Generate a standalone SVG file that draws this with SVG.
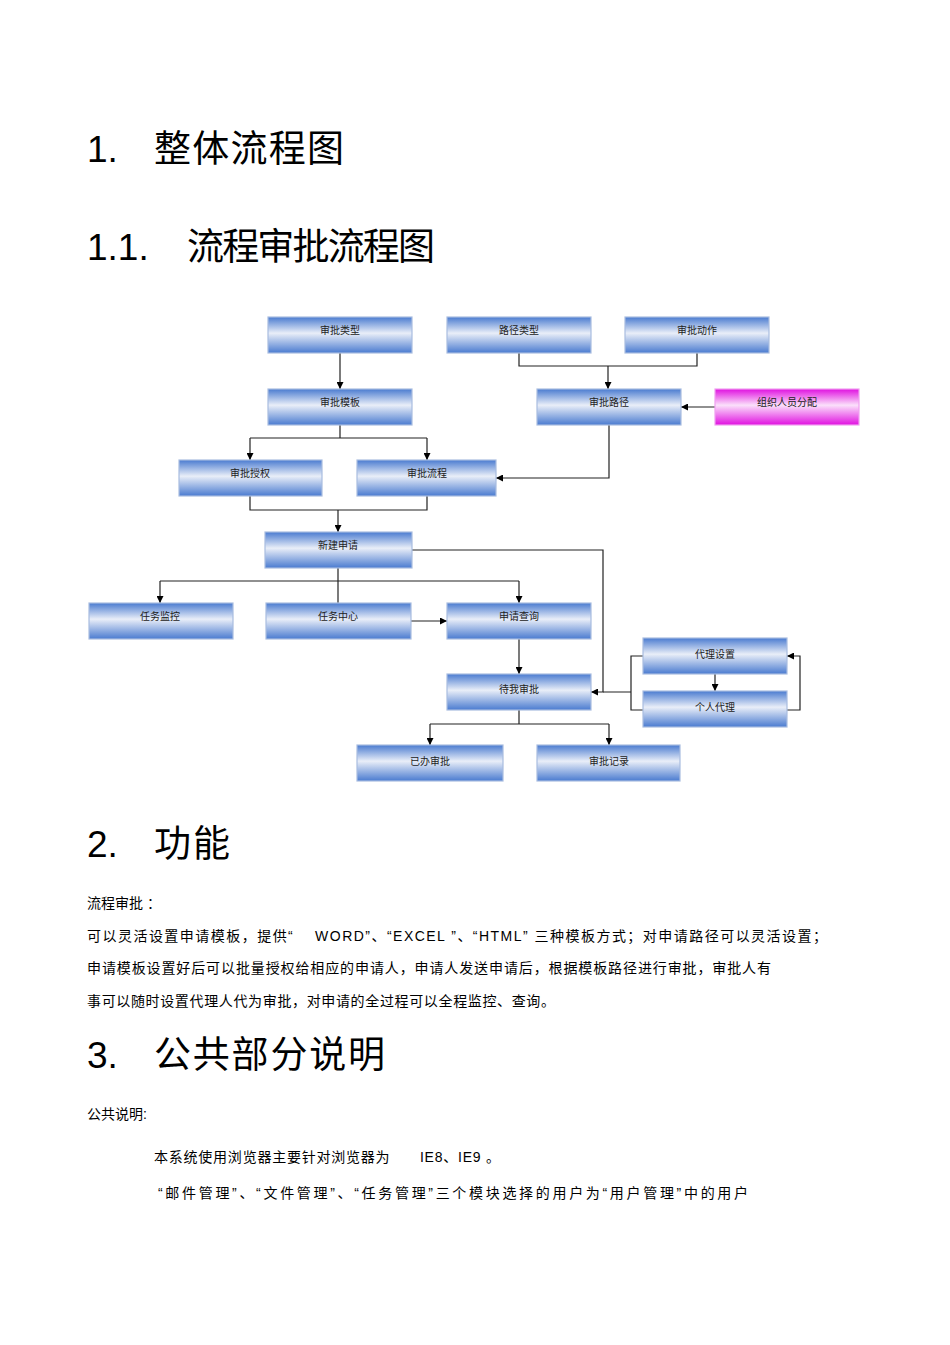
<svg xmlns="http://www.w3.org/2000/svg" width="950" height="1345" viewBox="0 0 950 1345">
<defs>
<linearGradient id="bg" x1="0" y1="0" x2="0" y2="1">
<stop offset="0" stop-color="#4a7bd0"/><stop offset="0.45" stop-color="#e9eef8"/><stop offset="1" stop-color="#4a7bd0"/>
</linearGradient>
<linearGradient id="mg" x1="0" y1="0" x2="0" y2="1">
<stop offset="0" stop-color="#e010e0"/><stop offset="0.45" stop-color="#fbe0fb"/><stop offset="1" stop-color="#e010e0"/>
</linearGradient>
<marker id="a" viewBox="0 0 10 10" refX="10" refY="5" markerWidth="7" markerHeight="7" orient="auto" markerUnits="userSpaceOnUse"><path d="M0,0L10,5L0,10z" fill="#000"/></marker>
</defs>
<style>
.n{fill:url(#bg);stroke:#a9bde0;stroke-width:1.2}
.m{fill:url(#mg);stroke:#f0a0f0;stroke-width:1.2}
.t{font-family:"Noto Sans CJK SC","Liberation Serif",serif;font-size:10px;fill:#222;text-anchor:middle}
.c{fill:none;stroke:#222;stroke-width:1.2}
.h{font-family:"Liberation Sans","Noto Sans CJK SC",sans-serif;font-size:37px;fill:#000}
.b{font-family:"Liberation Sans","Noto Sans CJK SC",sans-serif;font-size:14px;fill:#000}
</style>
<rect width="950" height="1345" fill="#fff"/>
<text class="h" x="87" y="162">1.</text><text class="h" x="154" y="162" textLength="190">整体流程图</text>
<text class="h" x="87" y="260">1.1.</text><text class="h" x="187" y="260" textLength="248">流程审批流程图</text>
<text class="h" x="87" y="857">2.</text><text class="h" x="154" y="857" textLength="76">功能</text>
<text class="h" x="87" y="1068">3.</text><text class="h" x="154" y="1068" textLength="231">公共部分说明</text>
<text class="b" x="87" y="908">流程审批 ：</text>
<text class="b" x="87" y="941" textLength="740" lengthAdjust="spacing">可以灵活设置申请模板，提供“　 WORD”、“EXCEL ”、“HTML” 三种模板方式；对申请路径可以灵活设置；</text>
<text class="b" x="87" y="973" textLength="684" lengthAdjust="spacing">申请模板设置好后可以批量授权给相应的申请人，申请人发送申请后，根据模板路径进行审批，审批人有</text>
<text class="b" x="87" y="1006" textLength="468" lengthAdjust="spacing">事可以随时设置代理人代为审批，对申请的全过程可以全程监控、查询。</text>
<text class="b" x="87" y="1119">公共说明:</text>
<text class="b" x="154" y="1162" textLength="346" lengthAdjust="spacing">本系统使用浏览器主要针对浏览器为　　IE8、IE9 。</text>
<text class="b" x="158" y="1198" textLength="590" lengthAdjust="spacing">“邮件管理”、“文件管理”、“任务管理”三个模块选择的用户为“用户管理”中的用户</text>
<g id="connectors">
<path class="c" d="M340,353V389" marker-end="url(#a)"/>
<path class="c" d="M519,353V366H697V353"/>
<path class="c" d="M608,366V389" marker-end="url(#a)"/>
<path class="c" d="M715,407H681" marker-end="url(#a)"/>
<path class="c" d="M340,425V438M250,438H427"/>
<path class="c" d="M250,438V460" marker-end="url(#a)"/>
<path class="c" d="M427,438V460" marker-end="url(#a)"/>
<path class="c" d="M609,425V478H496" marker-end="url(#a)"/>
<path class="c" d="M250,496V510H427V496"/>
<path class="c" d="M338,510V532" marker-end="url(#a)"/>
<path class="c" d="M412,550H603V692H591" marker-end="url(#a)"/>
<path class="c" d="M338,568V581M160,581H519"/>
<path class="c" d="M160,581V603" marker-end="url(#a)"/>
<path class="c" d="M338,581V603"/>
<path class="c" d="M519,581V603" marker-end="url(#a)"/>
<path class="c" d="M411,621H447" marker-end="url(#a)"/>
<path class="c" d="M519,639V674" marker-end="url(#a)"/>
<path class="c" d="M643,656H631V710H643M631,692H603"/>
<path class="c" d="M715,674V691" marker-end="url(#a)"/>
<path class="c" d="M787,710H800V656H787" marker-end="url(#a)"/>
<path class="c" d="M519,710V724M430,724H609"/>
<path class="c" d="M430,724V745" marker-end="url(#a)"/>
<path class="c" d="M609,724V745" marker-end="url(#a)"/>
</g>
<g id="n1"><rect class="n" x="268" y="317" width="144" height="36"/><text class="t" x="340" y="334">审批类型</text></g>
<g id="n2"><rect class="n" x="447" y="317" width="144" height="36"/><text class="t" x="519" y="334">路径类型</text></g>
<g id="n3"><rect class="n" x="625" y="317" width="144" height="36"/><text class="t" x="697" y="334">审批动作</text></g>
<g id="n4"><rect class="n" x="268" y="389" width="144" height="36"/><text class="t" x="340" y="406">审批模板</text></g>
<g id="n5"><rect class="n" x="537" y="389" width="144" height="36"/><text class="t" x="609" y="406">审批路径</text></g>
<g id="n6"><rect class="m" x="715" y="389" width="144" height="36"/><text class="t" x="787" y="406">组织人员分配</text></g>
<g id="n7"><rect class="n" x="179" y="460" width="143" height="36"/><text class="t" x="250" y="477">审批授权</text></g>
<g id="n8"><rect class="n" x="357" y="460" width="139" height="36"/><text class="t" x="427" y="477">审批流程</text></g>
<g id="n9"><rect class="n" x="265" y="532" width="147" height="36"/><text class="t" x="338" y="549">新建申请</text></g>
<g id="n10"><rect class="n" x="89" y="603" width="144" height="36"/><text class="t" x="160" y="620">任务监控</text></g>
<g id="n11"><rect class="n" x="266" y="603" width="145" height="36"/><text class="t" x="338" y="620">任务中心</text></g>
<g id="n12"><rect class="n" x="447" y="603" width="144" height="36"/><text class="t" x="519" y="620">申请查询</text></g>
<g id="n13"><rect class="n" x="643" y="638" width="144" height="36"/><text class="t" x="715" y="658">代理设置</text></g>
<g id="n14"><rect class="n" x="447" y="674" width="144" height="36"/><text class="t" x="519" y="693">待我审批</text></g>
<g id="n15"><rect class="n" x="643" y="691" width="144" height="36"/><text class="t" x="715" y="711">个人代理</text></g>
<g id="n16"><rect class="n" x="357" y="745" width="146" height="36"/><text class="t" x="430" y="765">已办审批</text></g>
<g id="n17"><rect class="n" x="537" y="745" width="143" height="36"/><text class="t" x="609" y="765">审批记录</text></g>
</svg>
